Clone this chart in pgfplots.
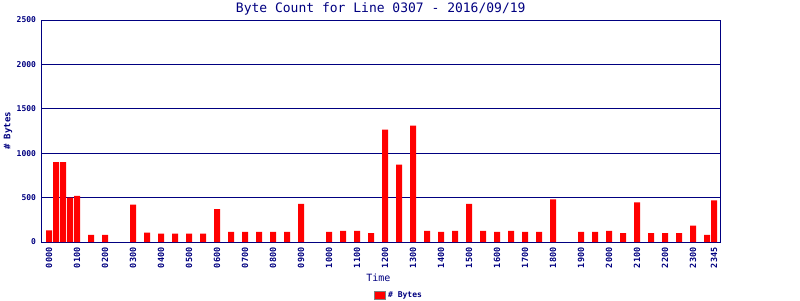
\documentclass[border=0pt]{standalone}
\usepackage{pgfplots}
\pgfplotsset{compat=1.18}
\usepackage{fontspec}
\setmainfont{DejaVu Sans Mono}
\definecolor{navy}{RGB}{0,0,128}
\definecolor{gborder}{RGB}{128,128,128}
\begin{document}
\begin{tikzpicture}[x=1pt,y=1pt]
\useasboundingbox (0,0) rectangle (800,300);
\begin{axis}[
  at={(41.5pt,58pt)}, anchor=south west,
  scale only axis, width=678.5pt, height=222pt,
  xmin=-0.27, xmax=23.96, ymin=0, ymax=2500,
  ybar, bar width=0.21,
  axis line style={navy, line width=1pt},
  ymajorgrids, grid style={navy, line width=1pt},
  major tick length=0pt,
  ytick={0,500,1000,1500,2000,2500},
  yticklabels={0,500,1000,1500,2000,2500},
  yticklabel style={font=\fontsize{8}{9}\selectfont\bfseries, text=navy, anchor=east, xshift=-2pt},
  xtick={0,1,2,3,4,5,6,7,8,9,10,11,12,13,14,15,16,17,18,19,20,21,22,23,23.75},
  xticklabels={0000,0100,0200,0300,0400,0500,0600,0700,0800,0900,1000,1100,1200,1300,1400,1500,1600,1700,1800,1900,2000,2100,2200,2300,2345},
  xticklabel style={font=\fontsize{8.5}{9}\selectfont\bfseries, text=navy, rotate=90, anchor=east, xshift=-2pt},
  title={Byte Count for Line 0307 - 2016/09/19},
  title style={font=\fontsize{13}{14}\selectfont, text=navy, at={(axis description cs:0.5,1)}, anchor=base, yshift=1.7pt},
  xlabel={Time},
  xlabel style={font=\fontsize{10}{11}\selectfont, text=navy, at={(axis description cs:0.4966,-0.162)}, anchor=center},
  ylabel={\# Bytes},
  ylabel style={font=\fontsize{9}{10}\selectfont\bfseries, text=navy, at={(axis description cs:-0.0494,0.5)}, anchor=center, rotate=0},
  legend style={at={(axis description cs:0.527,-0.239)}, anchor=center, draw=none, fill=none,
    font=\fontsize{8}{9}\selectfont\bfseries, text=navy, inner sep=0pt},
  legend image code/.code={\draw[fill=red, draw=gborder, line width=1pt] (0pt,-4pt) rectangle (11pt,4pt);},
]
\addplot[fill=red, draw=none] coordinates {
(0,130) (0.25,900) (0.5,900) (0.75,500) (1,520) (1.5,80) (2,80)
(3,420) (3.5,105) (4,95) (4.5,95) (5,95) (5.5,95) (6,370) (6.5,115)
(7,115) (7.5,115) (8,115) (8.5,115) (9,430) (10,115) (10.5,125)
(11,125) (11.5,100) (12,1265) (12.5,870) (13,1310) (13.5,125) (14,115)
(14.5,125) (15,430) (15.5,125) (16,115) (16.5,125) (17,115) (17.5,115)
(18,480) (19,115) (19.5,115) (20,125) (20.5,100) (21,445) (21.5,100)
(22,100) (22.5,100) (23,185) (23.5,80) (23.75,470)
};
\addlegendentry{\# Bytes}
\end{axis}
\end{tikzpicture}
\end{document}
